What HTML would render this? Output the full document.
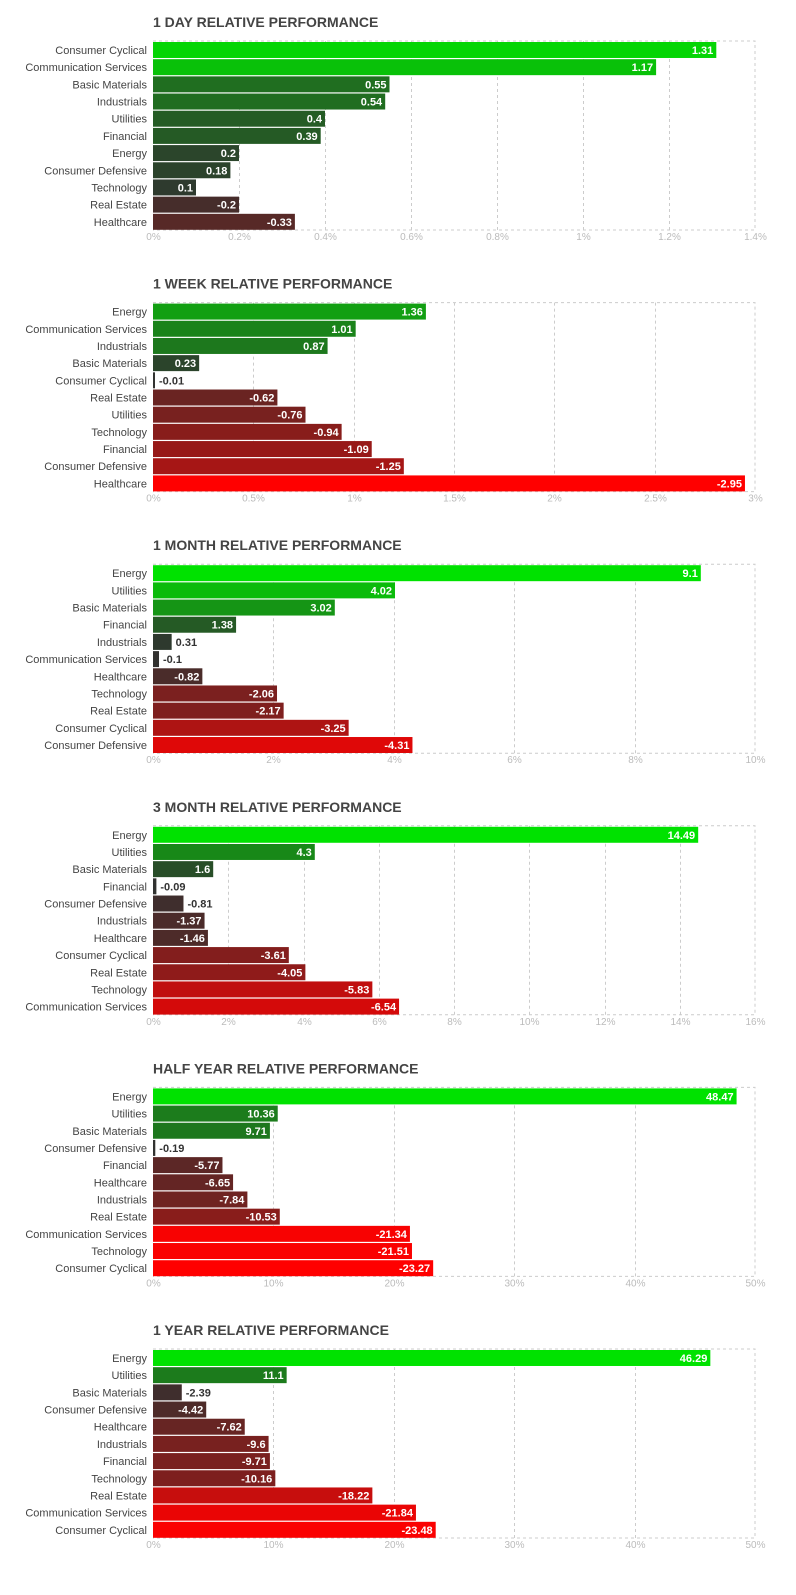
<!DOCTYPE html>
<html><head><meta charset="utf-8">
<style>
body{margin:0;background:#fff;width:796px;height:1595px;overflow:hidden;font-family:"Liberation Sans",sans-serif;}
svg{display:block}
</style></head>
<body>
<svg id="chart" width="796" height="1595" xmlns="http://www.w3.org/2000/svg"></svg>
<script>
const titles = ["1 DAY RELATIVE PERFORMANCE","1 WEEK RELATIVE PERFORMANCE","1 MONTH RELATIVE PERFORMANCE","3 MONTH RELATIVE PERFORMANCE","HALF YEAR RELATIVE PERFORMANCE","1 YEAR RELATIVE PERFORMANCE"];
const cats1 = ["Consumer Cyclical","Communication Services","Basic Materials","Industrials","Utilities","Financial","Energy","Consumer Defensive","Technology","Real Estate","Healthcare"];
const vals1 = [1.31,1.17,0.55,0.54,0.4,0.39,0.2,0.18,0.1,-0.2,-0.33];
const cats2 = ["Energy","Communication Services","Industrials","Basic Materials","Consumer Cyclical","Real Estate","Utilities","Technology","Financial","Consumer Defensive","Healthcare"];
const vals2 = [1.36,1.01,0.87,0.23,-0.01,-0.62,-0.76,-0.94,-1.09,-1.25,-2.95];
const cats3 = ["Energy","Utilities","Basic Materials","Financial","Industrials","Communication Services","Healthcare","Technology","Real Estate","Consumer Cyclical","Consumer Defensive"];
const vals3 = [9.1,4.02,3.02,1.38,0.31,-0.1,-0.82,-2.06,-2.17,-3.25,-4.31];
const cats4 = ["Energy","Utilities","Basic Materials","Financial","Consumer Defensive","Industrials","Healthcare","Consumer Cyclical","Real Estate","Technology","Communication Services"];
const vals4 = [14.49,4.3,1.6,-0.09,-0.81,-1.37,-1.46,-3.61,-4.05,-5.83,-6.54];
const cats5 = ["Energy","Utilities","Basic Materials","Consumer Defensive","Financial","Healthcare","Industrials","Real Estate","Communication Services","Technology","Consumer Cyclical"];
const vals5 = [48.47,10.36,9.71,-0.19,-5.77,-6.65,-7.84,-10.53,-21.34,-21.51,-23.27];
const cats6 = ["Energy","Utilities","Basic Materials","Consumer Defensive","Healthcare","Industrials","Financial","Technology","Real Estate","Communication Services","Consumer Cyclical"];
const vals6 = [46.29,11.1,-2.39,-4.42,-7.62,-9.6,-9.71,-10.16,-18.22,-21.84,-23.48];
const tickMax = [1.4,3,10,16,50,50];
const tickStep = [0.2,0.5,2,2,10,10];
const colorCap = [1.4,2.2,5,8,22,24];
const colorExp = [1.15,1.0,1.15,1.15,1.15,1.15];

const NS="http://www.w3.org/2000/svg";
const svg=document.getElementById('chart');
function mk(tag,attrs,parent){const e=document.createElementNS(NS,tag);for(const k in attrs)e.setAttribute(k,attrs[k]);(parent||svg).appendChild(e);return e;}
function col(v,cap,ex){let t=Math.min(1,Math.abs(v)/cap);t=Math.pow(t,ex);const b=[48,50,48];const g=v>=0?[0,226,0]:[255,0,0];return `rgb(${b.map((c,i)=>Math.round(c+(g[i]-c)*t)).join(',')})`;}
const allCats=[cats1,cats2,cats3,cats4,cats5,cats6];
const allVals=[vals1,vals2,vals3,vals4,vals5,vals6];
const X0=153,X1=755;
const measure=mk('text',{'font-size':11,'font-weight':'bold',x:-999,y:-999});
function tw(s){measure.textContent=s;return measure.getComputedTextLength();}
for(let p=0;p<6;p++){
  const oy=p*261.6;
  const top=41+oy,bot=230+oy;
  const g=mk('g',{});
  
  
  const x=v=>X0+(v/tickMax[p])*(X1-X0);
  const t=mk('text',{x:153,y:27+oy,'font-size':14,'font-weight':'bold',fill:'#444'},g);
  t.textContent=titles[p];
  
  
  mk('path',{d:`M${X0} ${top}H${X1}V${bot}H${X0}`,fill:'none',stroke:'#ccc','stroke-dasharray':'3,3'},g);
  const n=Math.round(tickMax[p]/tickStep[p]);
  for(let i=0;i<=n;i++){
    const v=+(i*tickStep[p]).toFixed(2);const xx=Math.round(x(v))+0.5;
    if(i>0&&i<n){const l=mk('line',{x1:xx,x2:xx,y1:top,y2:bot,stroke:'#ccc','stroke-dasharray':'3,3'},g);}
    const tl=mk('text',{x:xx,y:240+oy,'font-size':10,fill:'#bbb','text-anchor':'middle'},g);
    tl.textContent=v+'%';
    
    
  }
  const cats=allCats[p],vals=allVals[p];
  const step=(bot-top)/cats.length;
  cats.forEach((c,i)=>{
    const y=top+i*step+1;
    const w=Math.max(2,x(Math.abs(vals[i]))-X0);
    const lab=mk('text',{x:147,y:y+12,'font-size':11,fill:'#444','text-anchor':'end'},g);
    lab.textContent=c;
    
    
    const r=mk('rect',{x:X0,y:y,width:w,height:step-1.2,fill:col(vals[i],colorCap[p],colorExp[p])},g);
    
    
    const s=String(vals[i]);const sw=tw(s);
    const inside=w>sw+8;
    const vt=mk('text',{x:inside?X0+w-3:X0+w+4,y:y+12,'font-size':11,'font-weight':'bold',fill:inside?'#fff':'#333','text-anchor':inside?'end':'start'},g);
    vt.textContent=s;
    
    
  });
}
measure.remove();
</script>
</body></html>
